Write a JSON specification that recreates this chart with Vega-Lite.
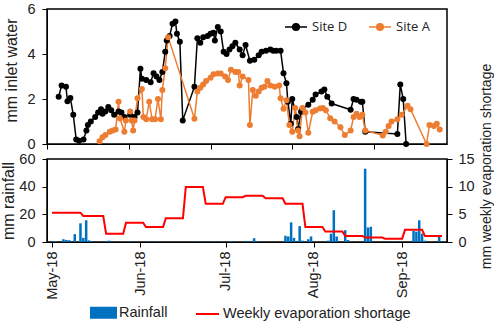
{
  "$schema": "https://vega.github.io/schema/vega-lite/v6.json",
  "padding": {"left": 0, "top": 0, "right": 2, "bottom": 0},
  "spacing": 15,
  "bounds": "flush",
  "config": {
    "view": {"stroke": "#000", "strokeWidth": 1.5},
    "axis": {"labelFont": "Liberation Sans", "titleFont": "Liberation Sans", "labelFontSize": 14.5, "titleFontSize": 16, "titleFontWeight": "normal", "labelColor": "#222", "titleColor": "#222", "domainColor": "#000", "tickColor": "#000", "grid": false, "tickSize": 5, "labelFlush": false, "labelOverlap": false},
    "legend": {"labelFont": "Liberation Sans", "labelFontSize": 14.5, "labelColor": "#222", "padding": 0, "labelLimit": 400}
  },
  "datasets": {
    "sites": [
      {"date": "2018-05-05T00:00", "site": "Site D", "v": 2.1},
      {"date": "2018-05-06T00:00", "site": "Site D", "v": 2.6},
      {"date": "2018-05-07T12:00", "site": "Site D", "v": 2.55},
      {"date": "2018-05-08T00:00", "site": "Site D", "v": 1.9},
      {"date": "2018-05-09T00:00", "site": "Site D", "v": 2.05},
      {"date": "2018-05-10T00:00", "site": "Site D", "v": 1.3},
      {"date": "2018-05-11T00:00", "site": "Site D", "v": 0.2},
      {"date": "2018-05-12T00:00", "site": "Site D", "v": 0.15},
      {"date": "2018-05-13T12:00", "site": "Site D", "v": 0.2},
      {"date": "2018-05-14T12:00", "site": "Site D", "v": 0.6},
      {"date": "2018-05-15T00:00", "site": "Site D", "v": 0.85},
      {"date": "2018-05-16T00:00", "site": "Site D", "v": 1.0},
      {"date": "2018-05-17T12:00", "site": "Site D", "v": 1.2},
      {"date": "2018-05-18T12:00", "site": "Site D", "v": 1.4},
      {"date": "2018-05-19T12:00", "site": "Site D", "v": 1.55},
      {"date": "2018-05-20T00:00", "site": "Site D", "v": 1.35},
      {"date": "2018-05-21T00:00", "site": "Site D", "v": 1.45},
      {"date": "2018-05-22T00:00", "site": "Site D", "v": 1.65},
      {"date": "2018-05-23T00:00", "site": "Site D", "v": 1.5},
      {"date": "2018-05-24T00:00", "site": "Site D", "v": 1.3},
      {"date": "2018-05-25T12:00", "site": "Site D", "v": 1.45},
      {"date": "2018-05-26T12:00", "site": "Site D", "v": 1.4},
      {"date": "2018-05-27T12:00", "site": "Site D", "v": 1.2},
      {"date": "2018-05-29T12:00", "site": "Site D", "v": 1.3},
      {"date": "2018-05-31T00:00", "site": "Site D", "v": 1.2},
      {"date": "2018-06-01T00:00", "site": "Site D", "v": 1.4},
      {"date": "2018-06-02T00:00", "site": "Site D", "v": 3.35},
      {"date": "2018-06-02T12:00", "site": "Site D", "v": 2.9},
      {"date": "2018-06-04T00:00", "site": "Site D", "v": 2.85},
      {"date": "2018-06-05T12:00", "site": "Site D", "v": 2.75},
      {"date": "2018-06-06T12:00", "site": "Site D", "v": 3.15},
      {"date": "2018-06-07T12:00", "site": "Site D", "v": 3.0},
      {"date": "2018-06-08T12:00", "site": "Site D", "v": 2.85},
      {"date": "2018-06-09T12:00", "site": "Site D", "v": 3.2},
      {"date": "2018-06-10T12:00", "site": "Site D", "v": 4.1},
      {"date": "2018-06-11T00:00", "site": "Site D", "v": 4.6},
      {"date": "2018-06-12T00:00", "site": "Site D", "v": 4.8},
      {"date": "2018-06-13T00:00", "site": "Site D", "v": 5.35},
      {"date": "2018-06-14T00:00", "site": "Site D", "v": 5.45},
      {"date": "2018-06-14T12:00", "site": "Site D", "v": 4.9},
      {"date": "2018-06-15T12:00", "site": "Site D", "v": 4.55},
      {"date": "2018-06-16T12:00", "site": "Site D", "v": 1.05},
      {"date": "2018-06-20T12:00", "site": "Site D", "v": 2.55},
      {"date": "2018-06-21T12:00", "site": "Site D", "v": 4.7},
      {"date": "2018-06-22T12:00", "site": "Site D", "v": 4.5},
      {"date": "2018-06-23T12:00", "site": "Site D", "v": 4.75},
      {"date": "2018-06-25T00:00", "site": "Site D", "v": 4.8},
      {"date": "2018-06-26T00:00", "site": "Site D", "v": 4.9},
      {"date": "2018-06-27T00:00", "site": "Site D", "v": 4.95},
      {"date": "2018-06-27T12:00", "site": "Site D", "v": 4.6},
      {"date": "2018-06-28T12:00", "site": "Site D", "v": 5.2},
      {"date": "2018-06-29T12:00", "site": "Site D", "v": 5.0},
      {"date": "2018-06-30T12:00", "site": "Site D", "v": 4.1},
      {"date": "2018-07-01T12:00", "site": "Site D", "v": 4.0},
      {"date": "2018-07-02T12:00", "site": "Site D", "v": 4.2},
      {"date": "2018-07-03T12:00", "site": "Site D", "v": 4.35},
      {"date": "2018-07-04T12:00", "site": "Site D", "v": 4.5},
      {"date": "2018-07-06T00:00", "site": "Site D", "v": 4.2},
      {"date": "2018-07-07T00:00", "site": "Site D", "v": 3.95},
      {"date": "2018-07-08T00:00", "site": "Site D", "v": 4.4},
      {"date": "2018-07-09T12:00", "site": "Site D", "v": 3.7},
      {"date": "2018-07-11T00:00", "site": "Site D", "v": 3.75},
      {"date": "2018-07-12T12:00", "site": "Site D", "v": 3.95},
      {"date": "2018-07-13T12:00", "site": "Site D", "v": 4.1},
      {"date": "2018-07-15T00:00", "site": "Site D", "v": 4.15},
      {"date": "2018-07-16T12:00", "site": "Site D", "v": 4.2},
      {"date": "2018-07-17T12:00", "site": "Site D", "v": 4.15},
      {"date": "2018-07-18T12:00", "site": "Site D", "v": 4.15},
      {"date": "2018-07-20T00:00", "site": "Site D", "v": 4.15},
      {"date": "2018-07-21T00:00", "site": "Site D", "v": 3.15},
      {"date": "2018-07-22T00:00", "site": "Site D", "v": 2.7},
      {"date": "2018-07-22T12:00", "site": "Site D", "v": 1.88},
      {"date": "2018-07-23T12:00", "site": "Site D", "v": 0.9},
      {"date": "2018-07-24T00:00", "site": "Site D", "v": 2.0},
      {"date": "2018-07-25T12:00", "site": "Site D", "v": 1.2},
      {"date": "2018-07-26T00:00", "site": "Site D", "v": 0.67},
      {"date": "2018-07-27T00:00", "site": "Site D", "v": 1.43},
      {"date": "2018-07-27T12:00", "site": "Site D", "v": 1.57},
      {"date": "2018-07-29T12:00", "site": "Site D", "v": 1.75},
      {"date": "2018-07-31T00:00", "site": "Site D", "v": 1.97},
      {"date": "2018-08-01T00:00", "site": "Site D", "v": 2.2},
      {"date": "2018-08-03T00:00", "site": "Site D", "v": 2.33},
      {"date": "2018-08-04T00:00", "site": "Site D", "v": 2.42},
      {"date": "2018-08-05T00:00", "site": "Site D", "v": 2.1},
      {"date": "2018-08-06T12:00", "site": "Site D", "v": 1.8},
      {"date": "2018-08-13T00:00", "site": "Site D", "v": 1.52},
      {"date": "2018-08-14T00:00", "site": "Site D", "v": 2.0},
      {"date": "2018-08-15T00:00", "site": "Site D", "v": 1.97},
      {"date": "2018-08-16T12:00", "site": "Site D", "v": 1.88},
      {"date": "2018-08-17T00:00", "site": "Site D", "v": 1.88},
      {"date": "2018-08-18T00:00", "site": "Site D", "v": 0.54},
      {"date": "2018-08-29T00:00", "site": "Site D", "v": 0.45},
      {"date": "2018-08-30T00:00", "site": "Site D", "v": 2.64},
      {"date": "2018-08-31T00:00", "site": "Site D", "v": 2.0},
      {"date": "2018-09-01T00:00", "site": "Site D", "v": 0.0},
      {"date": "2018-05-19T00:00", "site": "Site A", "v": 0.12},
      {"date": "2018-05-20T00:00", "site": "Site A", "v": 0.3},
      {"date": "2018-05-21T00:00", "site": "Site A", "v": 0.4},
      {"date": "2018-05-22T12:00", "site": "Site A", "v": 0.55},
      {"date": "2018-05-23T12:00", "site": "Site A", "v": 0.6},
      {"date": "2018-05-24T12:00", "site": "Site A", "v": 0.65},
      {"date": "2018-05-25T12:00", "site": "Site A", "v": 1.88},
      {"date": "2018-05-26T00:00", "site": "Site A", "v": 1.13},
      {"date": "2018-05-27T12:00", "site": "Site A", "v": 0.54},
      {"date": "2018-05-28T00:00", "site": "Site A", "v": 1.05},
      {"date": "2018-05-29T12:00", "site": "Site A", "v": 1.45},
      {"date": "2018-05-30T00:00", "site": "Site A", "v": 1.05},
      {"date": "2018-05-30T12:00", "site": "Site A", "v": 0.6},
      {"date": "2018-05-31T00:00", "site": "Site A", "v": 1.05},
      {"date": "2018-06-01T00:00", "site": "Site A", "v": 2.03},
      {"date": "2018-06-02T12:00", "site": "Site A", "v": 2.45},
      {"date": "2018-06-03T00:00", "site": "Site A", "v": 1.2},
      {"date": "2018-06-04T00:00", "site": "Site A", "v": 1.1},
      {"date": "2018-06-05T00:00", "site": "Site A", "v": 1.88},
      {"date": "2018-06-06T00:00", "site": "Site A", "v": 1.1},
      {"date": "2018-06-07T00:00", "site": "Site A", "v": 1.1},
      {"date": "2018-06-08T00:00", "site": "Site A", "v": 2.0},
      {"date": "2018-06-09T00:00", "site": "Site A", "v": 1.1},
      {"date": "2018-06-09T12:00", "site": "Site A", "v": 2.4},
      {"date": "2018-06-10T12:00", "site": "Site A", "v": 3.37},
      {"date": "2018-06-11T12:00", "site": "Site A", "v": 4.75},
      {"date": "2018-06-20T12:00", "site": "Site A", "v": 1.12},
      {"date": "2018-06-21T12:00", "site": "Site A", "v": 2.33},
      {"date": "2018-06-22T12:00", "site": "Site A", "v": 2.5},
      {"date": "2018-06-23T12:00", "site": "Site A", "v": 2.65},
      {"date": "2018-06-24T12:00", "site": "Site A", "v": 2.8},
      {"date": "2018-06-26T00:00", "site": "Site A", "v": 2.95},
      {"date": "2018-06-27T00:00", "site": "Site A", "v": 3.1},
      {"date": "2018-06-28T12:00", "site": "Site A", "v": 3.13},
      {"date": "2018-06-29T12:00", "site": "Site A", "v": 3.13},
      {"date": "2018-07-01T00:00", "site": "Site A", "v": 3.0},
      {"date": "2018-07-02T00:00", "site": "Site A", "v": 2.85},
      {"date": "2018-07-03T00:00", "site": "Site A", "v": 3.3},
      {"date": "2018-07-04T12:00", "site": "Site A", "v": 3.2},
      {"date": "2018-07-05T12:00", "site": "Site A", "v": 3.2},
      {"date": "2018-07-06T00:00", "site": "Site A", "v": 2.6},
      {"date": "2018-07-07T00:00", "site": "Site A", "v": 3.0},
      {"date": "2018-07-09T00:00", "site": "Site A", "v": 2.85},
      {"date": "2018-07-09T12:00", "site": "Site A", "v": 0.85},
      {"date": "2018-07-10T12:00", "site": "Site A", "v": 2.4},
      {"date": "2018-07-11T12:00", "site": "Site A", "v": 2.15},
      {"date": "2018-07-12T12:00", "site": "Site A", "v": 2.33},
      {"date": "2018-07-13T12:00", "site": "Site A", "v": 2.5},
      {"date": "2018-07-14T12:00", "site": "Site A", "v": 2.55},
      {"date": "2018-07-15T12:00", "site": "Site A", "v": 2.8},
      {"date": "2018-07-16T12:00", "site": "Site A", "v": 2.6},
      {"date": "2018-07-18T00:00", "site": "Site A", "v": 2.55},
      {"date": "2018-07-19T12:00", "site": "Site A", "v": 2.6},
      {"date": "2018-07-20T00:00", "site": "Site A", "v": 2.03},
      {"date": "2018-07-21T00:00", "site": "Site A", "v": 1.57},
      {"date": "2018-07-22T00:00", "site": "Site A", "v": 1.95},
      {"date": "2018-07-23T00:00", "site": "Site A", "v": 0.85},
      {"date": "2018-07-24T00:00", "site": "Site A", "v": 0.55},
      {"date": "2018-07-25T00:00", "site": "Site A", "v": 1.6},
      {"date": "2018-07-26T00:00", "site": "Site A", "v": 0.6},
      {"date": "2018-07-26T12:00", "site": "Site A", "v": 0.35},
      {"date": "2018-07-27T12:00", "site": "Site A", "v": 1.6},
      {"date": "2018-07-28T12:00", "site": "Site A", "v": 1.4},
      {"date": "2018-07-29T12:00", "site": "Site A", "v": 0.5},
      {"date": "2018-07-31T00:00", "site": "Site A", "v": 1.43},
      {"date": "2018-08-01T00:00", "site": "Site A", "v": 1.5},
      {"date": "2018-08-02T12:00", "site": "Site A", "v": 1.58},
      {"date": "2018-08-03T12:00", "site": "Site A", "v": 1.6},
      {"date": "2018-08-04T12:00", "site": "Site A", "v": 1.5},
      {"date": "2018-08-06T00:00", "site": "Site A", "v": 1.15},
      {"date": "2018-08-07T12:00", "site": "Site A", "v": 1.0},
      {"date": "2018-08-09T12:00", "site": "Site A", "v": 0.75},
      {"date": "2018-08-11T00:00", "site": "Site A", "v": 0.4},
      {"date": "2018-08-13T00:00", "site": "Site A", "v": 0.6},
      {"date": "2018-08-14T00:00", "site": "Site A", "v": 1.2},
      {"date": "2018-08-15T00:00", "site": "Site A", "v": 1.35},
      {"date": "2018-08-16T00:00", "site": "Site A", "v": 1.2},
      {"date": "2018-08-17T00:00", "site": "Site A", "v": 1.3},
      {"date": "2018-08-18T00:00", "site": "Site A", "v": 0.6},
      {"date": "2018-08-24T00:00", "site": "Site A", "v": 0.38},
      {"date": "2018-08-25T00:00", "site": "Site A", "v": 0.55},
      {"date": "2018-08-26T00:00", "site": "Site A", "v": 0.8},
      {"date": "2018-08-27T00:00", "site": "Site A", "v": 1.0},
      {"date": "2018-08-29T00:00", "site": "Site A", "v": 1.1},
      {"date": "2018-08-30T12:00", "site": "Site A", "v": 1.3},
      {"date": "2018-09-01T12:00", "site": "Site A", "v": 1.7},
      {"date": "2018-09-02T12:00", "site": "Site A", "v": 1.55},
      {"date": "2018-09-08T00:00", "site": "Site A", "v": 0.0},
      {"date": "2018-09-09T00:00", "site": "Site A", "v": 0.85},
      {"date": "2018-09-10T12:00", "site": "Site A", "v": 0.8},
      {"date": "2018-09-11T12:00", "site": "Site A", "v": 0.9},
      {"date": "2018-09-12T12:00", "site": "Site A", "v": 0.65}
    ],
    "rain": [
      {"date": "2018-05-02T00:00", "mm": 0.7},
      {"date": "2018-05-05T00:00", "mm": 2.0},
      {"date": "2018-05-06T00:00", "mm": 1.5},
      {"date": "2018-05-07T00:00", "mm": 1.3},
      {"date": "2018-05-09T00:00", "mm": 5.7},
      {"date": "2018-05-11T00:00", "mm": 13.5},
      {"date": "2018-05-12T00:00", "mm": 3.0},
      {"date": "2018-05-13T00:00", "mm": 15.7},
      {"date": "2018-05-14T00:00", "mm": 1.2},
      {"date": "2018-05-15T00:00", "mm": 0.5},
      {"date": "2018-05-20T00:00", "mm": 0.5},
      {"date": "2018-05-21T00:00", "mm": 1.0},
      {"date": "2018-05-28T00:00", "mm": 0.5},
      {"date": "2018-06-04T00:00", "mm": 0.5},
      {"date": "2018-06-07T00:00", "mm": 0.5},
      {"date": "2018-06-21T00:00", "mm": 0.5},
      {"date": "2018-06-27T00:00", "mm": 0.5},
      {"date": "2018-06-30T00:00", "mm": 0.5},
      {"date": "2018-07-03T00:00", "mm": 0.5},
      {"date": "2018-07-08T00:00", "mm": 0.6},
      {"date": "2018-07-09T00:00", "mm": 0.5},
      {"date": "2018-07-11T00:00", "mm": 2.7},
      {"date": "2018-07-12T00:00", "mm": 0.5},
      {"date": "2018-07-22T00:00", "mm": 4.5},
      {"date": "2018-07-23T00:00", "mm": 4.0},
      {"date": "2018-07-24T00:00", "mm": 14.2},
      {"date": "2018-07-25T00:00", "mm": 3.0},
      {"date": "2018-07-27T00:00", "mm": 11.5},
      {"date": "2018-07-28T00:00", "mm": 1.0},
      {"date": "2018-07-30T00:00", "mm": 2.0},
      {"date": "2018-07-31T00:00", "mm": 4.0},
      {"date": "2018-08-06T00:00", "mm": 1.0},
      {"date": "2018-08-07T00:00", "mm": 6.0},
      {"date": "2018-08-08T00:00", "mm": 23.0},
      {"date": "2018-08-09T00:00", "mm": 4.0},
      {"date": "2018-08-12T00:00", "mm": 8.5},
      {"date": "2018-08-13T00:00", "mm": 1.5},
      {"date": "2018-08-19T00:00", "mm": 53.0},
      {"date": "2018-08-20T00:00", "mm": 10.5},
      {"date": "2018-08-21T00:00", "mm": 11.0},
      {"date": "2018-08-29T00:00", "mm": 0.5},
      {"date": "2018-09-05T00:00", "mm": 8.0},
      {"date": "2018-09-06T00:00", "mm": 7.5},
      {"date": "2018-09-07T00:00", "mm": 15.7},
      {"date": "2018-09-08T00:00", "mm": 6.0},
      {"date": "2018-09-09T00:00", "mm": 1.0},
      {"date": "2018-09-14T00:00", "mm": 3.6}
    ],
    "evap": [
      {"date": "2018-05-01T00:00", "s": 5.3},
      {"date": "2018-05-11T00:00", "s": 5.3},
      {"date": "2018-05-12T00:00", "s": 4.7},
      {"date": "2018-05-19T00:00", "s": 4.7},
      {"date": "2018-05-20T00:00", "s": 1.5},
      {"date": "2018-05-26T00:00", "s": 1.5},
      {"date": "2018-05-27T00:00", "s": 3.5},
      {"date": "2018-06-02T00:00", "s": 3.5},
      {"date": "2018-06-03T00:00", "s": 2.7},
      {"date": "2018-06-09T00:00", "s": 2.7},
      {"date": "2018-06-10T00:00", "s": 4.3},
      {"date": "2018-06-16T00:00", "s": 4.3},
      {"date": "2018-06-17T00:00", "s": 9.95},
      {"date": "2018-06-23T00:00", "s": 9.95},
      {"date": "2018-06-24T00:00", "s": 6.9},
      {"date": "2018-06-30T00:00", "s": 6.9},
      {"date": "2018-07-01T00:00", "s": 8.1},
      {"date": "2018-07-07T00:00", "s": 8.1},
      {"date": "2018-07-08T00:00", "s": 8.35},
      {"date": "2018-07-14T00:00", "s": 8.35},
      {"date": "2018-07-15T00:00", "s": 7.9},
      {"date": "2018-07-21T00:00", "s": 7.9},
      {"date": "2018-07-22T00:00", "s": 6.9},
      {"date": "2018-07-28T00:00", "s": 6.9},
      {"date": "2018-07-29T00:00", "s": 2.7},
      {"date": "2018-08-04T00:00", "s": 2.7},
      {"date": "2018-08-05T00:00", "s": 1.9},
      {"date": "2018-08-11T00:00", "s": 1.9},
      {"date": "2018-08-12T00:00", "s": 1.1},
      {"date": "2018-08-18T00:00", "s": 1.1},
      {"date": "2018-08-19T00:00", "s": 0.8},
      {"date": "2018-08-25T00:00", "s": 0.8},
      {"date": "2018-08-26T00:00", "s": 0.6},
      {"date": "2018-09-01T00:00", "s": 0.6},
      {"date": "2018-09-02T00:00", "s": 2.2},
      {"date": "2018-09-08T00:00", "s": 2.2},
      {"date": "2018-09-09T00:00", "s": 1.1},
      {"date": "2018-09-15T00:00", "s": 1.1}
    ]
  },
  "resolve": {"scale": {"color": "independent"}, "legend": {"color": "independent"}},
  "vconcat": [
    {
      "width": 400,
      "height": 135,
      "data": {"name": "sites"},
      "encoding": {
        "x": {"field": "date", "type": "temporal",
          "scale": {"domain": [{"year": 2018, "month": 5, "date": 1}, {"year": 2018, "month": 9, "date": 15}]},
          "axis": {"title": null, "labels": false, "values": [{"year": 2018, "month": 5, "date": 1}, {"year": 2018, "month": 5, "date": 29}, {"year": 2018, "month": 6, "date": 26}, {"year": 2018, "month": 7, "date": 24}, {"year": 2018, "month": 8, "date": 21}]}},
        "y": {"field": "v", "type": "quantitative",
          "scale": {"domain": [0, 6], "nice": false},
          "axis": {"title": "mm inlet water", "values": [0, 2, 4, 6], "labelPadding": 7, "minExtent": 26, "titlePadding": 2, "titleY": 61}},
        "color": {"field": "site", "type": "nominal",
          "scale": {"domain": ["Site D", "Site A"], "range": ["#000000", "#ED7D31"]},
          "legend": {"orient": "none", "legendX": 237, "legendY": 6, "direction": "horizontal", "title": null,
            "labelFont": "Open Sans", "labelFontSize": 13, "labelOffset": 4, "columnPadding": 18,
            "symbolType": "M-1,0H1M-0.3,0A0.3,0.3 0 1,0 0.3,0A0.3,0.3 0 1,0 -0.3,0Z", "symbolSize": 484, "symbolStrokeWidth": 1.5,
            "encode": {"symbols": {"update": {
              "fill": {"signal": "datum.value === 'Site D' ? '#000000' : '#ED7D31'"},
              "stroke": {"signal": "datum.value === 'Site D' ? '#000000' : '#ED7D31'"},
              "opacity": {"value": 1}}}}}
        }
      },
      "layer": [
        {"mark": {"type": "line", "strokeWidth": 1.5}},
        {"mark": {"type": "point", "filled": true, "size": 36, "opacity": 1}}
      ]
    },
    {
      "width": 400,
      "height": 83,
      "resolve": {"scale": {"y": "independent"}},
      "layer": [
        {
          "data": {"name": "rain"},
          "mark": {"type": "bar", "width": 2.5},
          "encoding": {
            "x": {"field": "date", "type": "temporal",
              "scale": {"domain": [{"year": 2018, "month": 5, "date": 1}, {"year": 2018, "month": 9, "date": 15}]},
              "axis": {"title": null, "format": "%b-%y", "labelAngle": 270, "labelPadding": 4, "values": [{"year": 2018, "month": 5, "date": 1}, {"year": 2018, "month": 6, "date": 1}, {"year": 2018, "month": 7, "date": 1}, {"year": 2018, "month": 8, "date": 1}, {"year": 2018, "month": 9, "date": 1}]}},
            "y": {"field": "mm", "type": "quantitative",
              "scale": {"domain": [0, 60], "nice": false},
              "axis": {"title": "mm rainfall", "values": [0, 20, 40, 60], "labelPadding": 7, "minExtent": 26, "titlePadding": 2}},
            "color": {"datum": "Rainfall", "type": "nominal",
              "scale": {"domain": ["Rainfall", "Weekly evaporation shortage"], "range": ["#0070C0", "#FF0000"]},
              "legend": {"orient": "none", "legendX": 43, "legendY": 140, "direction": "horizontal", "title": null,
                "labelOffset": 2, "columnPadding": 24, "symbolSize": 625, "symbolStrokeWidth": 2, "labelLimit": 400,
                "encode": {"symbols": {"update": {
                  "shape": {"signal": "datum.value === 'Rainfall' ? 'M-1,-0.4H1V0.4H-1Z' : 'M-0.92,0H0.92'"},
                  "fill": {"signal": "datum.value === 'Rainfall' ? '#0070C0' : 'transparent'"},
                  "stroke": {"signal": "datum.value === 'Rainfall' ? 'transparent' : '#FF0000'"},
                  "strokeWidth": {"value": 2},
                  "opacity": {"value": 1}}}}}
            }
          }
        },
        {
          "data": {"name": "evap"},
          "mark": {"type": "line", "strokeWidth": 2},
          "encoding": {
            "x": {"field": "date", "type": "temporal"},
            "y": {"field": "s", "type": "quantitative",
              "scale": {"domain": [0, 15], "nice": false},
              "axis": {"orient": "right", "title": "mm weekly evaporation shortage", "titleFontSize": 14, "values": [0, 5, 10, 15], "labelPadding": 6, "minExtent": 27, "titlePadding": 5, "titleAngle": 270, "titleBaseline": "top", "titleY": 7, "titleAlign": "center"}},
            "color": {"datum": "Weekly evaporation shortage", "type": "nominal"}
          }
        }
      ]
    }
  ]
}
